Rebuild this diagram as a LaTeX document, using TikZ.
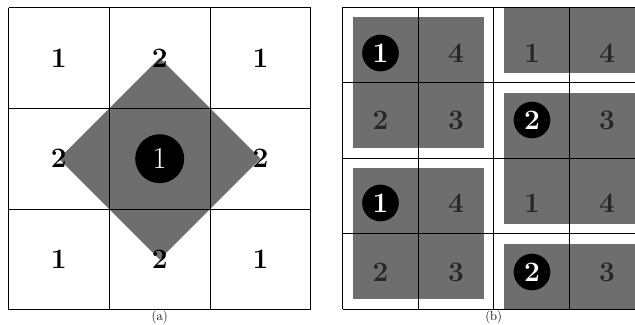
\documentclass[tikz,border=0pt]{standalone}
\usepackage{amsmath,amssymb}
\usepackage{tikz}

\definecolor{blockgray}{HTML}{6E6E6E}

\begin{document}
\begin{tikzpicture}[x=0.03cm, y=-0.03cm, line width=0.8pt,
  num/.style={font=\fontsize{24}{28}\selectfont\bfseries, inner sep=0pt},
  dot/.style={circle, fill=black, text=white, inner sep=0pt},
  subcap/.style={font=\fontsize{11}{12}\selectfont, inner sep=0pt}]
  \useasboundingbox (0,0) rectangle (635,324);
  % (a): 3x3 cells, diamond through the corners of the centre cell
  \fill[blockgray] (159.7,57.9) -- (260.5,158.7) -- (159.7,259.5)
    -- (58.9,158.7) -- cycle;
  \foreach \i in {0,...,3} {
    \draw (8.5+\i*100.8, 7.5) -- (8.5+\i*100.8, 309.9);
    \draw (8.5, 7.5+\i*100.8) -- (310.9, 7.5+\i*100.8);
  }
  \foreach \r/\c/\t in {0/0/1, 0/1/2, 0/2/1, 1/0/2, 1/2/2, 2/0/1, 2/1/2, 2/2/1}
    \node[num] (a\r\c) at (58.9+\c*100.8, 57.9+\r*100.8) {\t};
  \node[dot, minimum size=1.47cm, font=\fontsize{26}{30}\selectfont]
    (a11) at (159.7,158.7) {1};
  \node[subcap] (capa) at (159.7,317.5) {(a)};
  % (b): 4x4 cells, 2x2 blocks inset from the cell lines
  \begin{scope}
    \clip (342.7,7.3) rectangle (635,309.3);
    \fill[blockgray] (352.7,17.3) rectangle (483.7,148.3);
    \fill[blockgray] (352.7,168.3) rectangle (483.7,299.3);
    \fill[blockgray] (503.7,-58.2) rectangle (700,72.8);
    \fill[blockgray] (503.7,92.8) rectangle (700,223.8);
    \fill[blockgray] (503.7,243.8) rectangle (700,374.8);
  \end{scope}
  \begin{scope}
    \clip (330,0) rectangle (635,324);
    \foreach \i in {0,...,4} {
      \draw (342.7+\i*75.5, 7.3) -- (342.7+\i*75.5, 309.3);
      \draw (342.7, 7.3+\i*75.5) -- (644.7, 7.3+\i*75.5);
    }
  \end{scope}
  \foreach \n/\x/\y/\t in {b01/456/53/4, b10/380.5/120/2, b11/456/120/3,
      b21/456/203/4, b30/380.5/272/2, b31/456/272/3,
      b02/532/53/1, b03/607/53/4, b13/607/120/3,
      b22/532/203/1, b23/607/203/4, b33/607/272/3}
    \node[num, text=black!85] (\n) at (\x,\y) {\t};
  \foreach \n/\x/\y/\t in {b00/380.5/53/1, b20/380.5/203/1,
      b12/532/120/2, b32/532/272/2}
    \node[dot, num, text=white, minimum size=1.1cm] (\n) at (\x,\y) {\t};
  \node[subcap] (capb) at (493.7,317.5) {(b)};
\end{tikzpicture}
\end{document}
